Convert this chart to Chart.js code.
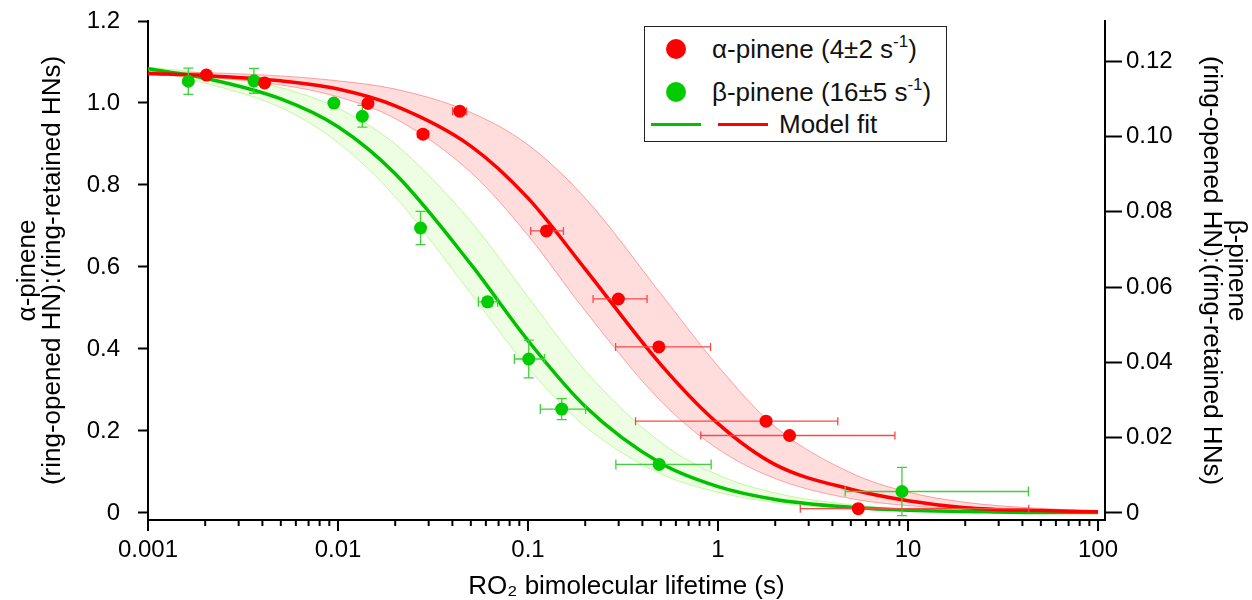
<!DOCTYPE html>
<html lang="en">
<head>
    <meta charset="UTF-8">
    <title>RO2 lifetime – ring-opened : ring-retained HNs</title>
    <script src="https://cdn.jsdelivr.net/npm/chart.js@4.4.1/dist/chart.umd.min.js"></script>
    <style>
        body { margin: 0; background: #fff; font-family: 'Liberation Sans', Arial, sans-serif; }
        #wrap { position: relative; width: 1252px; height: 600px; }
        #legend { position: absolute; left: 644px; top: 26px; width: 303px; height: 116px;
                  border: 1.5px solid #222; box-sizing: border-box; background: #fff; }
        .row { position: absolute; left: 0; font-size: 26px; color: #111; white-space: nowrap; }
        .dot { position: absolute; width: 20px; height: 20px; border-radius: 50%; }
        .seg { position: absolute; height: 3px; }
        .txt { position: absolute; line-height: 30px; }
        sup { font-size: 17px; vertical-align: 11px; line-height: 0; }
    </style>
</head>
<body>
<div id="wrap">
    <canvas id="chart" width="1252" height="600"></canvas>
    <div id="legend">
        <div class="row" style="top:7px">
            <span class="dot" style="left:21px;top:5px;background:#ff0000"></span>
            <span class="txt" style="left:67px;top:0">α-pinene (4±2 s<sup>-1</sup>)</span>
        </div>
        <div class="row" style="top:50px">
            <span class="dot" style="left:21px;top:5px;background:#00cc00"></span>
            <span class="txt" style="left:67px;top:0">β-pinene (16±5 s<sup>-1</sup>)</span>
        </div>
        <div class="row" style="top:82px">
            <span class="seg" style="left:6px;top:14px;width:50px;background:#00c000"></span>
            <span class="seg" style="left:73px;top:14px;width:50px;background:#ff0000"></span>
            <span class="txt" style="left:134px;top:0">Model fit</span>
        </div>
    </div>
</div>

<script>
// measured points, alpha-pinene (left axis)
const alphaX   = [0.00203, 0.00411, 0.01437, 0.0280, 0.0437, 0.125, 0.299, 0.488, 1.79, 2.38, 5.47];
const alphaY   = [1.068, 1.049, 0.999, 0.924, 0.980, 0.688, 0.522, 0.405, 0.224, 0.189, 0.0105];
const alphaXLo = [null, null, null, 0.0262, 0.0401, 0.1033, 0.220, 0.289, 0.368, 0.811, 2.71];
const alphaXHi = [null, null, null, 0.0300, 0.0475, 0.1536, 0.423, 0.913, 4.27, 8.53, 43.2];

// measured points, beta-pinene (right axis)
const betaX    = [0.00163, 0.00361, 0.00951, 0.01343, 0.0272, 0.0613, 0.1009, 0.1504, 0.490, 9.29];
const betaY    = [0.1147, 0.1148, 0.1089, 0.1054, 0.0757, 0.0561, 0.0409, 0.0276, 0.0129, 0.0057];
const betaYErr = [0.0035, 0.0033, 0.0008, 0.0029, 0.0044, 0.0012, 0.0050, 0.0028, 0, 0.0064];
const betaXLo  = [null, null, null, null, null, 0.0548, 0.0848, 0.116, 0.290, 4.67];
const betaXHi  = [null, null, null, null, null, 0.0692, 0.122, 0.201, 0.920, 43.0];

// model fit curves and their uncertainty bands
const fitX       = [0.001, 0.002, 0.005, 0.01, 0.02, 0.05, 0.1, 0.2, 0.5, 1, 2, 5, 10, 20, 50, 100];
const alphaFit   = [1.072, 1.067, 1.054, 1.034, 0.993, 0.895, 0.768, 0.595, 0.362, 0.218, 0.118, 0.058, 0.030, 0.013, 0.006, 0.003];
const alphaFitHi = [1.076, 1.074, 1.066, 1.054, 1.034, 0.977, 0.898, 0.768, 0.535, 0.358, 0.210, 0.098, 0.051, 0.026, 0.011, 0.005];
const alphaFitLo = [1.069, 1.063, 1.044, 1.015, 0.962, 0.831, 0.677, 0.493, 0.273, 0.156, 0.084, 0.035, 0.018, 0.009, 0.004, 0.002];
const betaFit    = [0.1180, 0.1155, 0.1100, 0.1026, 0.0901, 0.0661, 0.0458, 0.0283, 0.0132, 0.0070, 0.0036, 0.0015, 0.0007, 0.0004, 0.0001, 0.0001];
const betaFitHi  = [0.1184, 0.1168, 0.1130, 0.1075, 0.0980, 0.0774, 0.0574, 0.0378, 0.0187, 0.0101, 0.0053, 0.0022, 0.0011, 0.0006, 0.0002, 0.0001];
const betaFitLo  = [0.1176, 0.1142, 0.1077, 0.0984, 0.0840, 0.0583, 0.0386, 0.0230, 0.0104, 0.0055, 0.0028, 0.0011, 0.0006, 0.0003, 0.0001, 0.0000];

const xTicks  = [0.001, 0.01, 0.1, 1, 10, 100];
const yTicks  = [0, 0.2, 0.4, 0.6, 0.8, 1.0, 1.2];
const y2Ticks = [0, 0.02, 0.04, 0.06, 0.08, 0.10, 0.12];

const FONT = "'Liberation Sans', Arial, sans-serif";

function pts(xs, ys) { return xs.map((x, i) => ({ x: x, y: ys[i] })); }

// minor ticks for the log axis (2..9 in each decade)
const xAll = [];
xTicks.forEach(d => { for (let m = 1; m < 10; m++) { if (d * m <= 108) xAll.push(d * m); } });

const errorBars = {
    id: 'errorBars',
    beforeDatasetDraw(chart, args) {
        const ds = chart.data.datasets[args.index];
        if (!ds.errors) return;
        const ctx = chart.ctx, xs = chart.scales.x, ys = chart.scales[ds.yAxisID];
        ctx.save();
        ctx.strokeStyle = ds.errColor;
        ctx.lineWidth = 1.3;
        ds.data.forEach((p, i) => {
            const e = ds.errors[i];
            const px = xs.getPixelForValue(p.x), py = ys.getPixelForValue(p.y);
            ctx.beginPath();
            if (e.lo != null) {
                const a = xs.getPixelForValue(e.lo), b = xs.getPixelForValue(e.hi);
                ctx.moveTo(a, py); ctx.lineTo(b, py);
                ctx.moveTo(a, py - ds.cap); ctx.lineTo(a, py + ds.cap);
                ctx.moveTo(b, py - ds.cap); ctx.lineTo(b, py + ds.cap);
            }
            if (e.dy) {
                const t = ys.getPixelForValue(p.y + e.dy), u = ys.getPixelForValue(p.y - e.dy);
                ctx.moveTo(px, t); ctx.lineTo(px, u);
                ctx.moveTo(px - 5, t); ctx.lineTo(px + 5, t);
                ctx.moveTo(px - 5, u); ctx.lineTo(px + 5, u);
            }
            ctx.stroke();
        });
        ctx.restore();
    }
};

// log axis tick marks: long for decades, short for the minors
const logTicks = {
    id: 'logTicks',
    afterDraw(chart) {
        const s = chart.scales.x, ctx = chart.ctx;
        ctx.save();
        ctx.strokeStyle = '#000';
        ctx.lineWidth = 2;
        s.ticks.forEach(t => {
            const px = s.getPixelForValue(t.value);
            const major = xTicks.some(d => Math.abs(d - t.value) / d < 1e-6);
            ctx.beginPath();
            ctx.moveTo(px, s.top);
            ctx.lineTo(px, s.top + (major ? 11 : 6));
            ctx.stroke();
        });
        ctx.restore();
    }
};

const line = (data, axis, color, width, order, extra) => Object.assign({
    type: 'line', data: data, yAxisID: axis, borderColor: color, borderWidth: width,
    pointRadius: 0, fill: false, cubicInterpolationMode: 'monotone', order: order
}, extra || {});

const datasets = [
    line(pts(fitX, betaFitHi), 'y2', 'rgba(150,240,90,0.55)', 1, 5, { fill: '+1', backgroundColor: 'rgba(190,250,150,0.28)' }),
    line(pts(fitX, betaFitLo), 'y2', 'rgba(150,240,90,0.55)', 1, 5),
    line(pts(fitX, alphaFitHi), 'y', 'rgba(255,60,60,0.45)', 1, 4, { fill: '+1', backgroundColor: 'rgba(255,120,120,0.25)' }),
    line(pts(fitX, alphaFitLo), 'y', 'rgba(255,60,60,0.45)', 1, 4),
    line(pts(fitX, betaFit), 'y2', '#00c000', 3.5, 3),
    line(pts(fitX, alphaFit), 'y', '#ff0000', 3.5, 2),
    {
        type: 'scatter', data: pts(betaX, betaY), yAxisID: 'y2', order: 1,
        backgroundColor: '#00cc00', borderWidth: 0, pointRadius: 6.5, showLine: false,
        errors: betaX.map((v, i) => ({ lo: betaXLo[i], hi: betaXHi[i], dy: betaYErr[i] })),
        errColor: 'rgb(60,210,60)', cap: 5
    },
    {
        type: 'scatter', data: pts(alphaX, alphaY), yAxisID: 'y', order: 0,
        backgroundColor: '#ff0000', borderWidth: 0, pointRadius: 6.5, showLine: false,
        errors: alphaX.map((v, i) => ({ lo: alphaXLo[i], hi: alphaXHi[i], dy: 0 })),
        errColor: 'rgb(255,70,70)', cap: 4
    }
];

const tickFont = { family: FONT, size: 24 };
const titleFont = { family: FONT, size: 26, lineHeight: 0.98 };

// fixed side widths; no extra label padding at the ends
const fixWidth = w => s => { s.width = w; s.paddingTop = 0; s.paddingBottom = 0; };

new Chart(document.getElementById('chart'), {
    type: 'line',
    data: { datasets: datasets },
    plugins: [errorBars, logTicks],
    options: {
        responsive: false,
        animation: false,
        layout: { padding: { top: 21, left: 0, right: 0, bottom: 0 } },
        plugins: { legend: { display: false }, tooltip: { enabled: false } },
        scales: {
            x: {
                type: 'logarithmic', position: 'bottom', min: 0.001, max: 108.8,
                afterBuildTicks: s => { s.ticks = xAll.map(v => ({ value: v })); },
                afterFit: s => { s.height = 80; s.paddingLeft = 0; s.paddingRight = 0; },
                border: { display: true, color: '#000', width: 2 },
                grid: { display: true, drawOnChartArea: false, drawTicks: false },
                ticks: {
                    autoSkip: false, maxRotation: 0, padding: 16, color: '#000', font: tickFont,
                    callback: v => xTicks.some(d => Math.abs(d - v) / d < 1e-6) ? String(v) : ''
                },
                title: { display: true, text: 'RO₂ bimolecular lifetime (s)', color: '#000', font: titleFont, padding: { top: 0, bottom: 0 } }
            },
            y: {
                type: 'linear', position: 'left', min: -0.0171, max: 1.2,
                afterBuildTicks: s => { s.ticks = yTicks.map(v => ({ value: v })); },
                afterFit: fixWidth(148),
                border: { display: true, color: '#000', width: 2 },
                grid: { display: true, drawOnChartArea: false, drawTicks: true, tickLength: 10, tickWidth: 2, tickColor: '#000' },
                ticks: { padding: 18, color: '#000', font: tickFont, callback: v => v === 0 ? '0' : v.toFixed(1) },
                title: { display: true, text: ['α-pinene', '(ring-opened HN):(ring-retained HNs)'], color: '#000', font: titleFont, padding: { top: 15, bottom: 4 } }
            },
            y2: {
                type: 'linear', position: 'right', min: -0.00187, max: 0.1307,
                afterBuildTicks: s => { s.ticks = y2Ticks.map(v => ({ value: v })); },
                afterFit: fixWidth(147),
                border: { display: true, color: '#000', width: 2 },
                grid: { display: true, drawOnChartArea: false, drawTicks: true, tickLength: 17, tickWidth: 2, tickColor: '#000' },
                ticks: { padding: 4, color: '#000', font: tickFont, callback: v => v === 0 ? '0' : v.toFixed(2) },
                title: { display: true, text: ['β-pinene', '(ring-opened HN):(ring-retained HNs)'], color: '#000', font: titleFont, padding: { top: 3, bottom: 4 } }
            }
        }
    }
});
</script>
</body>
</html>
